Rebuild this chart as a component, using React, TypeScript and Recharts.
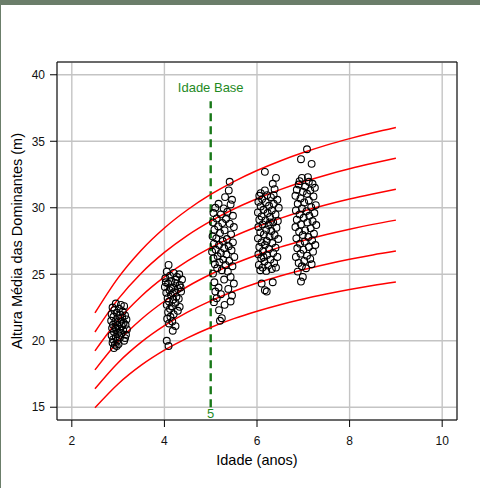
import React from 'react';
import {
  ComposedChart,
  Line,
  Scatter,
  XAxis,
  YAxis,
  CartesianGrid,
  ReferenceArea,
  ReferenceLine,
  Label,
} from 'recharts';

// ages where the site-index curves were read
const curveAges = [2.5, 3, 3.5, 4, 4.5, 5, 5.5, 6, 6.5, 7, 7.5, 8, 8.5, 9];

// dominant height along each site-index curve (m)
const curveS21 = [14.96, 16.75, 18.16, 19.29, 20.22, 21, 21.66, 22.22, 22.71, 23.14, 23.51, 23.85, 24.15, 24.41];
const curveS23 = [16.39, 18.35, 19.89, 21.13, 22.15, 23, 23.72, 24.34, 24.87, 25.34, 25.75, 26.12, 26.45, 26.74];
const curveS25 = [17.81, 19.94, 21.62, 22.97, 24.08, 25, 25.78, 26.45, 27.04, 27.54, 27.99, 28.39, 28.75, 29.07];
const curveS27 = [19.24, 21.54, 23.35, 24.8, 26.0, 27, 27.85, 28.57, 29.2, 29.75, 30.23, 30.66, 31.04, 31.39];
const curveS29 = [20.66, 23.13, 25.08, 26.64, 27.93, 29, 29.91, 30.68, 31.36, 31.95, 32.47, 32.93, 33.34, 33.72];
const curveS31 = [22.09, 24.73, 26.81, 28.48, 29.85, 31, 31.97, 32.8, 33.52, 34.15, 34.71, 35.2, 35.64, 36.04];

// measured plots: [age, height]
const plotsAge3 = [
  [2.95, 22.8], [3.06, 22.7], [3.13, 22.6], [2.88, 22.5], [2.92, 22.3], [3.02, 22.4], [3.1, 22.2], [2.86, 22.0],
  [2.97, 22.1], [3.05, 21.95], [3.15, 21.9], [2.9, 21.8], [3.0, 21.7], [3.09, 21.75], [3.18, 21.6], [2.85, 21.5],
  [2.94, 21.45], [3.04, 21.4], [3.12, 21.35], [2.89, 21.2], [2.99, 21.15], [3.08, 21.1], [3.16, 21.2], [2.87, 20.95],
  [2.96, 20.9], [3.03, 20.85], [3.11, 20.8], [3.19, 20.85], [2.91, 20.65], [3.0, 20.6], [3.07, 20.55], [3.17, 20.45],
  [2.86, 20.4], [2.95, 20.3], [3.04, 20.25], [3.15, 20.2], [2.89, 20.1], [2.98, 20.0], [2.88, 19.85], [2.93, 19.7],
  [2.97, 19.6], [2.91, 19.45], [3.01, 19.75], [3.13, 20.0], [2.94, 21.0],
];
const plotsAge4 = [
  [4.09, 25.7], [4.05, 25.2], [4.2, 25.1], [4.32, 25.0], [4.12, 24.9], [4.02, 24.7], [4.27, 24.8], [4.38, 24.6],
  [4.15, 24.5], [4.08, 24.3], [4.23, 24.35], [4.33, 24.2], [4.01, 24.05], [4.18, 24.0], [4.29, 23.9], [4.11, 23.8],
  [4.04, 23.6], [4.21, 23.65], [4.36, 23.7], [4.14, 23.45], [4.26, 23.3], [4.07, 23.2], [4.19, 23.1], [4.31, 23.15],
  [4.1, 22.95], [4.24, 22.85], [4.05, 22.7], [4.16, 22.6], [4.33, 22.55], [4.12, 22.4], [4.29, 22.25], [4.08, 22.15],
  [4.2, 22.0], [4.13, 21.8], [4.06, 21.65], [4.17, 21.45], [4.24, 21.1], [4.1, 21.3], [4.18, 20.75], [4.05, 20.0],
  [4.09, 19.6], [4.03, 24.4], [4.35, 24.0], [4.25, 24.6], [4.14, 23.95],
];
const plotsAge5 = [
  [5.41, 31.95], [5.39, 31.3], [5.31, 30.8], [5.46, 30.6], [5.17, 30.3], [5.43, 30.25], [5.1, 30.0], [5.28, 29.95],
  [5.36, 29.7], [5.06, 29.6], [5.22, 29.5], [5.48, 29.4], [5.13, 29.2], [5.33, 29.15], [5.05, 28.9], [5.25, 28.85],
  [5.41, 28.8], [5.16, 28.6], [5.5, 28.55], [5.08, 28.35], [5.3, 28.3], [5.2, 28.1], [5.44, 28.0], [5.04, 27.85],
  [5.12, 27.7], [5.35, 27.65], [5.26, 27.5], [5.48, 27.4], [5.07, 27.3], [5.18, 27.2], [5.39, 27.1], [5.29, 26.95],
  [5.11, 26.85], [5.45, 26.8], [5.03, 26.7], [5.22, 26.6], [5.34, 26.5], [5.15, 26.35], [5.51, 26.3], [5.06, 26.2],
  [5.27, 26.1], [5.4, 26.0], [5.19, 25.9], [5.09, 25.75], [5.32, 25.7], [5.47, 25.6], [5.14, 25.45], [5.24, 25.3],
  [5.37, 25.2], [5.05, 25.05], [5.43, 24.8], [5.29, 24.6], [5.08, 24.4], [5.5, 24.3], [5.17, 24.0], [5.38, 23.9],
  [5.1, 23.7], [5.22, 23.5], [5.46, 23.4], [5.13, 23.2], [5.43, 22.95], [5.07, 22.9], [5.3, 22.7], [5.18, 22.3],
  [5.24, 21.7], [5.2, 21.5],
];
const plotsAge6 = [
  [6.17, 32.7], [6.41, 32.25], [6.34, 31.8], [6.17, 31.3], [6.38, 31.4], [6.05, 30.9], [6.22, 30.95], [6.3, 30.8],
  [6.11, 30.65], [6.44, 30.6], [6.03, 30.45], [6.19, 30.4], [6.36, 30.3], [6.26, 30.15], [6.08, 30.1], [6.47, 30.0],
  [6.14, 29.85], [6.32, 29.8], [6.02, 29.65], [6.23, 29.6], [6.4, 29.5], [6.1, 29.35], [6.28, 29.3], [6.05, 29.1],
  [6.18, 29.05], [6.45, 29.0], [6.35, 28.9], [6.12, 28.75], [6.25, 28.7], [6.03, 28.55], [6.42, 28.5], [6.2, 28.35],
  [6.31, 28.25], [6.07, 28.15], [6.15, 28.0], [6.38, 27.95], [6.27, 27.85], [6.02, 27.7], [6.46, 27.65], [6.21, 27.5],
  [6.1, 27.4], [6.33, 27.35], [6.17, 27.2], [6.05, 27.05], [6.4, 27.0], [6.26, 26.9], [6.13, 26.75], [6.35, 26.6],
  [6.03, 26.5], [6.22, 26.45], [6.44, 26.3], [6.09, 26.2], [6.29, 26.1], [6.16, 25.95], [6.37, 25.85], [6.04, 25.7],
  [6.24, 25.65], [6.12, 25.5], [6.32, 25.4], [6.2, 25.25], [6.07, 25.3], [6.41, 25.5], [6.1, 24.3], [6.17, 23.8],
  [6.21, 23.7], [6.34, 24.4], [6.28, 28.9], [6.14, 26.3], [6.36, 30.95], [6.08, 31.1],
];
const plotsAge7 = [
  [7.08, 34.4], [6.95, 33.65], [7.18, 33.3], [6.97, 32.25], [7.12, 31.95], [7.2, 31.8], [6.9, 31.75], [7.04, 31.6],
  [7.25, 31.5], [6.86, 31.35], [7.15, 31.3], [6.99, 31.2], [7.08, 31.05], [6.83, 30.9], [7.22, 30.85], [6.94, 30.7],
  [7.12, 30.55], [7.02, 30.4], [6.88, 30.3], [7.27, 30.2], [7.17, 30.05], [6.97, 29.95], [6.84, 29.8], [7.07, 29.75],
  [7.24, 29.6], [6.92, 29.5], [7.13, 29.4], [7.01, 29.25], [6.86, 29.1], [7.2, 29.0], [7.09, 28.9], [6.95, 28.75],
  [7.28, 28.7], [6.83, 28.55], [7.16, 28.45], [7.04, 28.3], [6.91, 28.2], [7.23, 28.05], [6.99, 27.95], [7.11, 27.8],
  [6.85, 27.7], [7.19, 27.55], [7.03, 27.45], [6.93, 27.3], [7.26, 27.2], [7.12, 27.05], [6.87, 26.95], [7.0, 26.85],
  [7.21, 26.7], [6.94, 26.55], [7.08, 26.4], [6.84, 26.3], [7.15, 26.15], [7.02, 26.0], [6.9, 25.85], [7.18, 25.75],
  [6.97, 25.6], [7.06, 25.45], [6.88, 25.2], [6.99, 24.8], [6.95, 24.45], [7.1, 32.3], [6.92, 32.0],
];

const xTicks = [2, 4, 6, 8, 10];
const yTicks = [15, 20, 25, 30, 35, 40];
const baseAge = 5;
const baseLineSpan = [15, 38];

const xDomain = [1.68, 10.32];
const yDomain = [14.04, 40.96];

const FONT = '"Liberation Sans", Arial, Helvetica, sans-serif';

const curves = [curveS21, curveS23, curveS25, curveS27, curveS29, curveS31].map((hs) =>
  curveAges.map((a, i) => ({ x: a, y: hs[i] }))
);

const plots = [...plotsAge3, ...plotsAge4, ...plotsAge5, ...plotsAge6, ...plotsAge7].map(([a, h]) => ({ x: a, y: h }));

const OpenCircle = (props: any) => {
  const { cx, cy } = props;
  if (cx == null || cy == null) return null;
  return <circle cx={cx} cy={cy} r={3.4} fill="none" stroke="#000" strokeWidth={1.1} />;
};

const YTitle = (props: any) => {
  const vb = props.viewBox || {};
  const x = vb.x + vb.width - 40;
  const y = vb.y + vb.height / 2;
  return (
    <text
      x={x}
      y={y}
      transform={`rotate(-90 ${x} ${y})`}
      textAnchor="middle"
      dominantBaseline="central"
      fontSize={14.5}
      fontFamily={FONT}
      fill="#000"
    >
      Altura Média das Dominantes (m)
    </text>
  );
};

export default function App() {
  return (
    <div style={{ position: 'absolute', left: 0, top: 0, width: 480, height: 488, background: '#6b7e6a' }}>
      <div style={{ position: 'absolute', left: 1, top: 5, width: 479, height: 483, background: '#fff' }} />
      <div style={{ position: 'absolute', left: 0, top: 0 }}>
        <ComposedChart width={480} height={488} margin={{ top: 62, right: 23, bottom: 38, left: 0 }}>
          <CartesianGrid stroke="#c4c4c4" strokeWidth={1.4} />
          <XAxis
            dataKey="x"
            type="number"
            domain={xDomain}
            ticks={xTicks}
            allowDataOverflow
            height={30}
            axisLine={false}
            tickLine={{ stroke: '#000' }}
            tickSize={7}
            tickMargin={9}
            tick={{ fontSize: 12, fill: '#111', fontFamily: FONT }}
          >
            <Label value="Idade (anos)" position="bottom" offset={5} fontSize={14.5} fill="#000" fontFamily={FONT} />
          </XAxis>
          <YAxis
            dataKey="y"
            type="number"
            domain={yDomain}
            ticks={yTicks}
            allowDataOverflow
            width={57}
            axisLine={false}
            tickLine={{ stroke: '#000' }}
            tickSize={7}
            tickMargin={5}
            tick={{ fontSize: 12, fill: '#111', fontFamily: FONT }}
            label={<YTitle />}
          />
          <ReferenceArea
            x1={xDomain[0]}
            x2={xDomain[1]}
            y1={yDomain[0]}
            y2={yDomain[1]}
            fill="none"
            fillOpacity={0}
            stroke="#000"
            strokeWidth={1}
            ifOverflow="visible"
          />
          <ReferenceLine
            segment={[
              { x: baseAge, y: baseLineSpan[0] },
              { x: baseAge, y: baseLineSpan[1] },
            ]}
            stroke="#187818"
            strokeWidth={2.4}
            strokeDasharray="8 5"
            ifOverflow="visible"
          >
            <Label value="Idade Base" position="top" offset={9} fontSize={13} fill="#1f8a1f" fontFamily={FONT} />
            <Label value={String(baseAge)} position="bottom" offset={2} fontSize={13} fill="#1f8a1f" fontFamily={FONT} />
          </ReferenceLine>
          {curves.map((d, i) => (
            <Line
              key={i}
              data={d}
              dataKey="y"
              type="monotone"
              stroke="#ff0000"
              strokeWidth={1.5}
              dot={false}
              isAnimationActive={false}
            />
          ))}
          <Scatter data={plots} dataKey="y" shape={<OpenCircle />} isAnimationActive={false} />
        </ComposedChart>
      </div>
    </div>
  );
}
